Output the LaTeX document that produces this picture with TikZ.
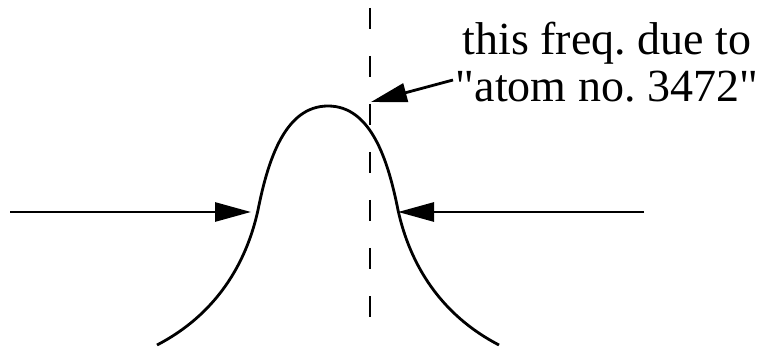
\documentclass[tikz,border=0pt]{standalone}
\usepackage{fontspec}
\setmainfont{Liberation Serif}[Ligatures=TeXOff]
\usetikzlibrary{arrows.meta,positioning}

\begin{document}
\frenchspacing
\begin{tikzpicture}[x=1pt,y=-1pt,line width=2.8pt,
  curve/.style={line join=round},
  pointer/.style={-{Triangle[length=36pt,width=19pt]}},
  marker/.style={dash pattern=on 21pt off 27pt},
  note/.style={font=\fontsize{46}{47}\selectfont,align=center,inner sep=0pt}]
\useasboundingbox (0,0) rectangle (784,347);
% the line profile
\draw[curve] (157,345) .. controls (215,315) and (246,265) .. (258,210)
  .. controls (268,160) and (285,106) .. (328,106)
  .. controls (371,106) and (388,160) .. (398,210)
  .. controls (410,265) and (441,315) .. (499,345);
% the frequency in question
\coordinate (top) at (370,8);
\coordinate (bottom) at (370,318);
\draw[marker] (top) -- (bottom);
% width arrows
\coordinate (lstart) at (10,212);
\coordinate (ltip) at (251,212);
\coordinate (rstart) at (644,212);
\coordinate (rtip) at (398,212);
\draw[pointer] (lstart) -- (ltip);
\draw[pointer] (rstart) -- (rtip);
% label
\node[note,anchor=base] (label) at (607,102) {this freq. due to\\"atom no. 3472"};
\coordinate (from) at (453,80);
\coordinate (hit) at (371,102);
\draw[pointer] (from) -- (hit);
\end{tikzpicture}
\end{document}
